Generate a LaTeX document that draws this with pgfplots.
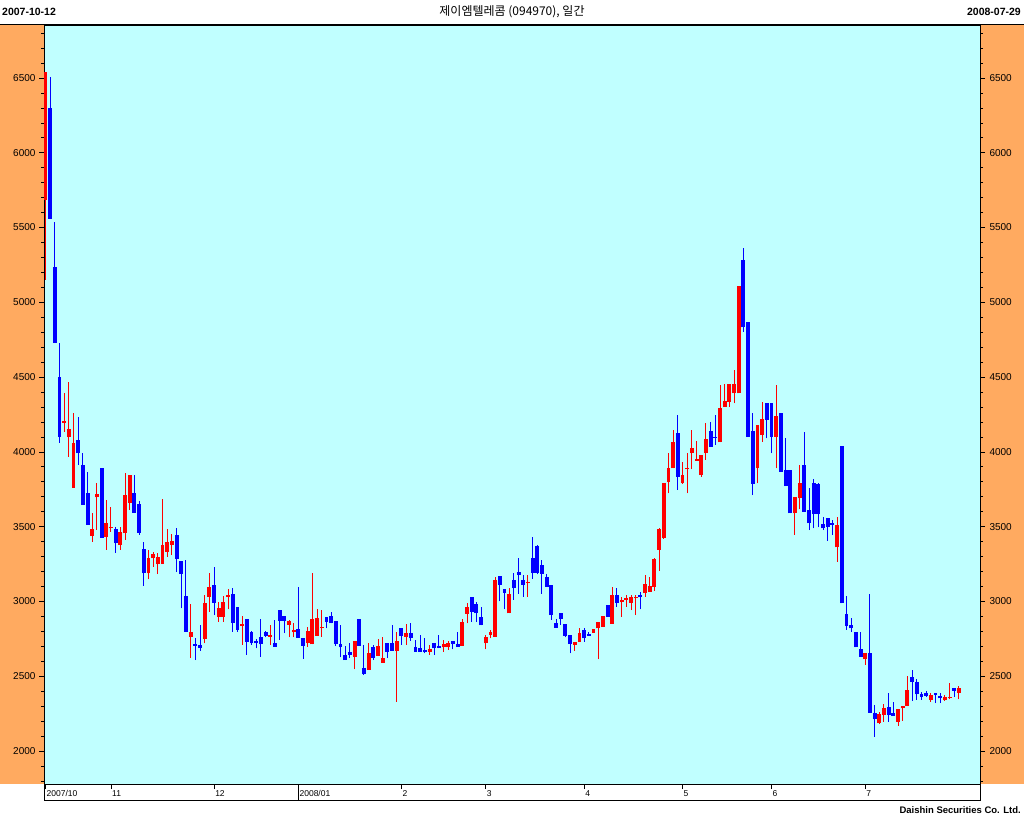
\documentclass[border=0pt]{standalone}
\usepackage{fontspec}
\setmainfont{Liberation Sans}
\newfontfamily\kr{Noto Sans CJK KR}
\usepackage{pgfplots}
\usepackage{pgfplotstable}
\pgfplotsset{compat=1.18}
\definecolor{bgcyan}{RGB}{192,255,255}
\definecolor{panel}{RGB}{255,170,96}
\definecolor{upred}{RGB}{255,0,0}
\definecolor{dnblue}{RGB}{0,0,255}
\pgfplotstableread{
i o h l c
0 5684 6542 5149 6542
1 6297 6504 5559 5559
2 5238 5539 4730 4730
3 4503 4730 4061 4102
4 4193 4396 4135 4206
5 4097 4465 3968 4151
6 3761 4262 3761 4057
7 4079 4235 3912 3990
8 3912 3990 3645 3645
9 3723 3863 3511 3511
10 3437 3593 3400 3482
11 3696 3790 3478 3718
12 3894 3894 3426 3426
13 3433 3678 3344 3527
14 3490 3634 3466 3497
15 3482 3500 3326 3389
16 3377 3500 3344 3466
17 3455 3861 3411 3712
18 3660 3845 3611 3845
19 3723 3845 3593 3593
20 3651 3673 3444 3460
21 3349 3395 3103 3188
22 3188 3344 3148 3288
23 3288 3333 3232 3317
24 3250 3326 3183 3295
25 3250 3685 3250 3375
26 3333 3484 3299 3397
27 3377 3451 3310 3406
28 3444 3489 3199 3284
29 3272 3272 2954 3183
30 3036 3277 2798 2798
31 2764 2983 2620 2794
32 2715 2753 2608 2704
33 2711 2842 2671 2687
34 2751 3043 2720 2987
35 3032 3188 2931 3099
36 3108 3228 2909 2992
37 2898 2998 2865 2954
38 2898 3036 2865 2998
39 3028 3081 2947 3043
40 3050 3090 2798 2858
41 2965 2965 2798 2809
42 2838 2903 2709 2849
43 2883 2883 2642 2731
44 2798 2805 2709 2720
45 2738 2750 2686 2720
46 2764 2880 2631 2713
47 2798 2800 2760 2769
48 2764 2842 2709 2775
49 2720 2876 2697 2697
50 2943 2943 2742 2869
51 2903 2903 2787 2869
52 2842 2876 2760 2869
53 2793 2853 2760 2809
54 2813 3099 2758 2758
55 2758 2758 2617 2702
56 2720 2831 2697 2802
57 2713 3192 2713 2880
58 2769 2947 2769 2887
59 2824 2943 2764 2831
60 2894 2894 2820 2865
61 2903 2932 2853 2853
62 2869 2869 2702 2715
63 2715 2842 2626 2693
64 2640 2702 2608 2608
65 2662 2720 2620 2644
66 2631 2735 2546 2735
67 2880 2880 2702 2702
68 2553 2706 2508 2515
69 2542 2720 2542 2657
70 2693 2709 2608 2624
71 2637 2749 2637 2702
72 2590 2764 2590 2624
73 2720 2720 2624 2660
74 2720 2842 2671 2671
75 2671 2798 2330 2738
76 2820 2820 2709 2769
77 2764 2849 2709 2787
78 2791 2858 2738 2753
79 2693 2742 2664 2664
80 2686 2775 2664 2664
81 2675 2753 2653 2662
82 2664 2709 2642 2680
83 2720 2720 2642 2686
84 2702 2775 2686 2691
85 2693 2742 2664 2715
86 2693 2737 2675 2720
87 2738 2738 2680 2715
88 2715 2798 2697 2697
89 2702 2882 2702 2860
90 2916 2987 2853 2960
91 3032 3032 2865 2932
92 2980 2998 2865 2920
93 2894 2960 2840 2840
94 2720 2775 2680 2760
95 2775 2809 2753 2793
96 2764 3166 2764 3143
97 3170 3170 3000 3110
98 3081 3081 2947 3059
99 2920 3088 2920 3050
100 3143 3188 3010 3088
101 3199 3288 3050 3177
102 3143 3177 3032 3110
103 3125 3177 3032 3130
104 3290 3430 3150 3190
105 3370 3380 3180 3190
106 3240 3280 3050 3185
107 3165 3180 3099 3099
108 3110 3110 2876 2909
109 2853 2880 2824 2824
110 2920 2920 2842 2880
111 2849 2849 2760 2769
112 2775 2775 2653 2715
113 2709 2731 2671 2731
114 2731 2820 2731 2787
115 2809 2820 2731 2753
116 2782 2798 2769 2769
117 2791 2813 2791 2813
118 2820 2865 2613 2865
119 2831 2903 2831 2903
120 2976 2976 2898 2898
121 2849 3099 2849 3043
122 3043 3087 2965 2992
123 2994 3032 2898 3009
124 3009 3043 2965 3020
125 2992 3043 2942 3032
126 3020 3043 2909 3032
127 3043 3065 2947 3027
128 3054 3176 3032 3116
129 3065 3165 3065 3103
130 3099 3290 3072 3284
131 3344 3490 3205 3482
132 3426 3790 3420 3790
133 3800 3995 3723 3890
134 3890 4146 3890 4064
135 4128 4246 3745 3834
136 3790 3934 3785 3845
137 3885 3990 3723 3890
138 3990 4146 3883 4023
139 3941 4075 3941 3950
140 3845 3979 3835 3979
141 3990 4191 3946 4086
142 4139 4202 4035 4035
143 4099 4246 4046 4093
144 4064 4447 4064 4291
145 4302 4454 4300 4340
146 4336 4451 4302 4451
147 4391 4547 4324 4451
148 4391 5111 4391 5111
149 5283 5361 4804 4832
150 4870 4870 4101 4101
151 4141 4257 3711 3785
152 3890 4180 3789 4180
153 4112 4335 4068 4217
154 4329 4329 4090 4213
155 4329 4329 3990 4101
156 4101 4447 3890 4240
157 4262 4262 3867 3867
158 3878 4090 3771 3771
159 3878 3878 3589 3589
160 3589 3696 3444 3696
161 3689 3912 3616 3789
162 3912 4135 3600 3600
163 3611 3756 3477 3522
164 3789 3816 3489 3584
165 3785 3790 3495 3584
166 3518 3562 3477 3489
167 3555 3560 3406 3500
168 3522 3545 3444 3511
169 3362 3567 3266 3511
170 4039 4039 2987 2987
171 2916 3036 2809 2835
172 2842 2887 2798 2820
173 2798 2798 2693 2693
174 2680 2798 2631 2631
175 2613 2657 2575 2653
176 2653 3050 2256 2256
177 2256 2307 2095 2211
178 2184 2262 2180 2247
179 2240 2314 2196 2285
180 2291 2390 2196 2240
181 2256 2330 2234 2234
182 2196 2279 2167 2279
183 2285 2300 2203 2300
184 2300 2501 2300 2408
185 2492 2542 2336 2461
186 2461 2479 2341 2379
187 2381 2397 2341 2363
188 2385 2403 2363 2370
189 2341 2390 2330 2374
190 2385 2386 2319 2374
191 2368 2386 2319 2352
192 2341 2374 2337 2363
193 2352 2457 2345 2363
194 2419 2419 2363 2403
195 2390 2435 2345 2419
}\ohlc
\begin{document}
\begin{tikzpicture}[x=1pt,y=1pt]
\useasboundingbox (0,0) rectangle (1024,819);
\fill[white] (0,0) rectangle (1024,819);
\fill[panel] (0,35) rectangle (44,794);
\fill[panel] (980,35) rectangle (1024,794);
\begin{axis}[
  at={(44pt,35pt)}, anchor=south west,
  scale only axis, width=936pt, height=759pt,
  xmin=-0.3, xmax=199.5, ymin=1779, ymax=6854,
  axis background/.style={fill=bgcyan},
  axis line style={black, line width=0.8pt},
  tick align=outside,
  xtick pos=bottom, ytick pos=both, yticklabel pos=left,
  xtick={0,14,36,54,76,94,115,136,155,175},
  xticklabels={2007/10,11,12,2008/01,2,3,4,5,6,7},
  ytick={2000,2500,...,6500},
  minor ytick={1800,1900,...,6800},
  major tick length=5pt, minor tick length=3pt,
  tick style={black, line width=0.6pt},
  yticklabel style={font=\fontsize{10}{11}\selectfont, text=black},
  xticklabel style={font=\fontsize{8.5}{9}\selectfont, anchor=north west, inner sep=1pt},
  /pgf/number format/1000 sep={},
  /pgf/number format/assume math mode=true,
  candle/.style={draw=none, mark=none, forget plot,
    error bars/.cd, y dir=plus, y explicit, error mark=none},
]
\addplot[candle, error bar style={draw=upred, line width=1pt}]
  table[x=i, y expr={\thisrow{c}>=\thisrow{o} ? \thisrow{l} : nan}, y error plus expr={\thisrow{h}-\thisrow{l}}] {\ohlc};
\addplot[candle, error bar style={draw=dnblue, line width=1pt}]
  table[x=i, y expr={\thisrow{c}<\thisrow{o} ? \thisrow{l} : nan}, y error plus expr={\thisrow{h}-\thisrow{l}}] {\ohlc};
\addplot[candle, error bar style={draw=upred, line width=3.9pt}]
  table[x=i, y expr={\thisrow{c}>=\thisrow{o} ? \thisrow{o} : nan}, y error plus expr={max(\thisrow{c}-\thisrow{o},8)}] {\ohlc};
\addplot[candle, error bar style={draw=dnblue, line width=3.9pt}]
  table[x=i, y expr={\thisrow{c}<\thisrow{o} ? \thisrow{c} : nan}, y error plus expr={max(\thisrow{o}-\thisrow{c},8)}] {\ohlc};
\end{axis}
\begin{axis}[
  at={(44pt,35pt)}, anchor=south west,
  scale only axis, width=936pt, height=759pt,
  xmin=-0.3, xmax=199.5, ymin=1779, ymax=6854,
  hide x axis, axis y line*=right, axis line style={draw=none},
  ytick={2000,2500,...,6500}, major tick length=0pt,
  yticklabel style={font=\fontsize{10}{11}\selectfont, text=black, xshift=6pt},
  /pgf/number format/1000 sep={},
  /pgf/number format/assume math mode=true,
]
\addplot[draw=none, forget plot] coordinates {(0,3000)};
\end{axis}
\draw[black, line width=0.6pt] (44,35) rectangle (980,19);
\draw[black, line width=0.6pt] (298.4,35) -- (298.4,19);
\draw[black, line width=0.8pt] (0,794.6) -- (1024,794.6);
\node[anchor=west, font=\bfseries\fontsize{10.5}{12}\selectfont, inner sep=0pt] at (2,807) {2007-10-12};
\node[anchor=east, font=\bfseries\fontsize{10.5}{12}\selectfont, inner sep=0pt] at (1021,807) {2008-07-29};
\node[font=\kr\fontsize{12}{14}\selectfont, inner sep=0pt] at (512,807) {제이엠텔레콤 (094970), 일간};
\node[anchor=east, font=\bfseries\fontsize{9.5}{11}\selectfont, inner sep=0pt] at (1021,9) {Daishin Securities Co. Ltd.};
\end{tikzpicture}
\end{document}
